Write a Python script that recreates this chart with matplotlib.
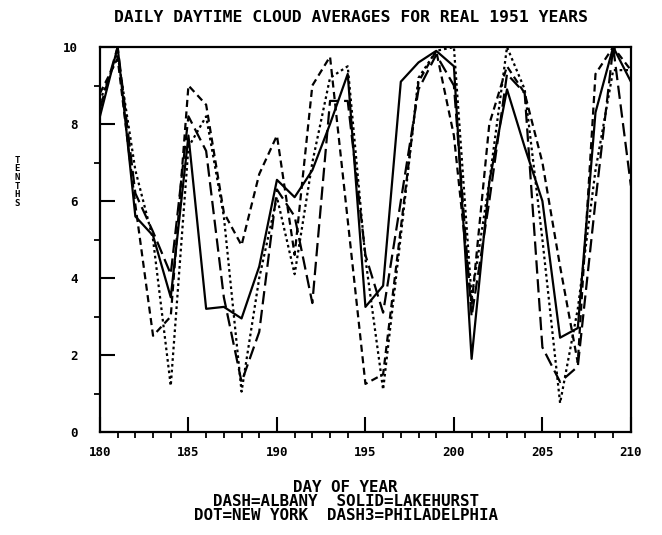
import numpy as np
import matplotlib
matplotlib.use("Agg")
import matplotlib.pyplot as plt
from matplotlib.ticker import MultipleLocator

# ================== DATA ==================
days = list(range(180, 211))

albany = [8.8, 9.7, 5.9, 2.5, 3.0, 9.0, 8.5, 5.7, 4.85, 6.7,
          7.7, 4.6, 9.0, 9.75, 5.5, 1.25, 1.5, 5.3, 9.1, 9.9,
          7.7, 3.3, 8.0, 9.5, 8.8, 7.0, 4.3, 1.8, 9.3, 10.0, 9.4]

lakehurst = [8.2, 10.0, 5.6, 5.1, 3.5, 7.7, 3.2, 3.25, 2.95, 4.3,
             6.55, 6.1, 6.8, 8.0, 9.3, 3.25, 3.8, 9.1, 9.6, 9.9,
             9.5, 1.9, 6.5, 8.9, 7.4, 6.0, 2.45, 2.7, 8.3, 10.0, 9.1]

new_york = [8.6, 9.8, 6.8, 5.0, 1.2, 7.4, 8.2, 5.6, 1.05, 4.0,
            6.1, 4.1, 7.0, 9.2, 9.5, 4.5, 1.1, 5.1, 9.2, 9.9,
            10.0, 3.5, 6.5, 10.0, 8.9, 5.0, 0.75, 3.2, 6.8, 9.4, 9.4]

philadelphia = [8.4, 10.0, 6.2, 5.2, 4.1, 8.2, 7.3, 3.5, 1.3, 2.6,
                6.3, 5.6, 3.35, 8.6, 8.6, 4.6, 3.1, 6.0, 8.9, 9.8,
                9.0, 3.0, 6.0, 9.3, 8.8, 2.2, 1.3, 1.7, 6.0, 10.0, 6.4]

TITLE = "DAILY DAYTIME CLOUD AVERAGES FOR REAL 1951 YEARS"
XLAB = ["DAY OF YEAR",
        "DASH=ALBANY  SOLID=LAKEHURST",
        "DOT=NEW YORK  DASH3=PHILADELPHIA"]
YLAB = "TENTHS"

# ================== PLOT ==================
MONO = "DejaVu Sans Mono"
fig = plt.figure(figsize=(6.62, 5.35), dpi=100)
ax = fig.add_axes([0.151, 0.1925, 0.802, 0.7196])

lw = 1.6
ax.plot(days, albany, color="black", lw=lw, linestyle=(0, (3.2, 2)))
ax.plot(days, lakehurst, color="black", lw=lw, linestyle="-")
ax.plot(days, new_york, color="black", lw=lw, linestyle=(0, (1.2, 1.4)))
ax.plot(days, philadelphia, color="black", lw=lw, linestyle=(0, (6, 2.5)))

ax.set_xlim(180, 210)
ax.set_ylim(0, 10)
ax.xaxis.set_major_locator(MultipleLocator(5))
ax.xaxis.set_minor_locator(MultipleLocator(1))
ax.yaxis.set_major_locator(MultipleLocator(2))
ax.yaxis.set_minor_locator(MultipleLocator(1))

for s in ax.spines.values():
    s.set_linewidth(1.6)

ax.tick_params(which="major", direction="in", length=11, width=1.5)
ax.tick_params(which="minor", direction="out", length=4.5, width=1.3)
ax.tick_params(axis="x", which="major", pad=10)
ax.tick_params(axis="y", which="major", pad=16)

for lab in ax.get_xticklabels() + ax.get_yticklabels():
    lab.set_fontfamily(MONO)
    lab.set_fontweight("bold")
    lab.set_fontsize(9)

fig.text(0.53, 0.968, TITLE, ha="center", va="center",
         fontfamily=MONO, fontsize=11.8, fontweight="bold")

ys = [0.089, 0.063, 0.037]
for y, t in zip(ys, XLAB):
    fig.text(0.522, y, t, ha="center", va="center",
             fontfamily=MONO, fontsize=11.4, fontweight="bold")

fig.text(0.026, 0.66, "\n".join(YLAB), ha="center", va="center",
         fontfamily=MONO, fontsize=6.5, fontweight="bold", linespacing=0.95)

fig.savefig("out.png", dpi=100)
